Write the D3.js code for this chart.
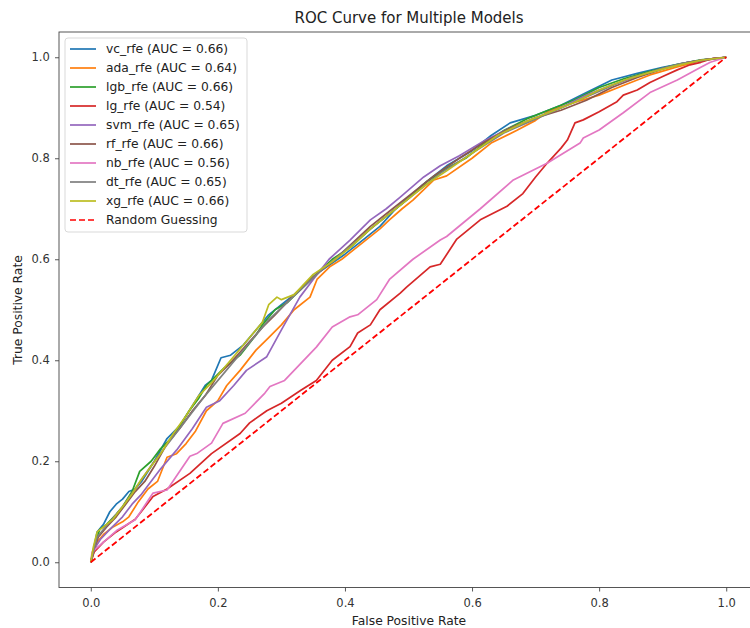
<!DOCTYPE html>
<html lang="en">
<head>
<meta charset="UTF-8">
<title>ROC Curve for Multiple Models</title>
<style>
  body { margin: 0; background: #fff; }
  svg { display: block; font-family: "DejaVu Sans", sans-serif; }
</style>
</head>
<body>
<svg id="chart" width="750" height="628"></svg>
<script src="https://cdn.jsdelivr.net/npm/d3@7/dist/d3.min.js"></script>
<script>
// model names and AUC from legend
const models = ["vc_rfe", "ada_rfe", "lgb_rfe", "lg_rfe", "svm_rfe", "rf_rfe", "nb_rfe", "dt_rfe", "xg_rfe"];
const aucs = [0.66, 0.64, 0.66, 0.54, 0.65, 0.66, 0.56, 0.65, 0.66];
const colors = ["#1f77b4", "#ff7f0e", "#2ca02c", "#d62728", "#9467bd", "#8c564b", "#e377c2", "#7f7f7f", "#bcbd22"];

// [fpr, tpr]
const vc = [[0,0],[0.005,0.03],[0.01,0.06],[0.02,0.075],[0.03,0.10],[0.04,0.115],[0.05,0.125],[0.06,0.14],[0.07,0.145],[0.08,0.16],[0.10,0.20],[0.12,0.245],[0.14,0.27],[0.16,0.31],[0.18,0.35],[0.19,0.36],[0.205,0.405],[0.22,0.41],[0.24,0.43],[0.26,0.46],[0.28,0.49],[0.30,0.51],[0.33,0.54],[0.36,0.575],[0.40,0.61],[0.43,0.64],[0.455,0.665],[0.48,0.70],[0.52,0.745],[0.56,0.785],[0.60,0.815],[0.63,0.845],[0.66,0.87],[0.70,0.885],[0.74,0.905],[0.78,0.93],[0.82,0.955],[0.86,0.968],[0.90,0.98],[0.94,0.99],[0.97,0.996],[1,1]];
const ada = [[0,0],[0.005,0.02],[0.01,0.04],[0.02,0.055],[0.035,0.07],[0.05,0.08],[0.06,0.09],[0.075,0.12],[0.09,0.145],[0.105,0.16],[0.12,0.208],[0.135,0.215],[0.15,0.235],[0.165,0.26],[0.182,0.30],[0.20,0.32],[0.214,0.35],[0.235,0.38],[0.26,0.42],[0.28,0.445],[0.30,0.47],[0.32,0.50],[0.345,0.525],[0.356,0.56],[0.376,0.585],[0.395,0.60],[0.42,0.625],[0.455,0.66],[0.47,0.678],[0.49,0.70],[0.507,0.717],[0.54,0.757],[0.56,0.765],[0.60,0.80],[0.63,0.83],[0.67,0.855],[0.70,0.875],[0.72,0.893],[0.76,0.91],[0.80,0.925],[0.84,0.945],[0.88,0.965],[0.92,0.98],[0.96,0.993],[1,1]];
const lgb = [[0,0],[0.008,0.04],[0.014,0.065],[0.025,0.075],[0.04,0.095],[0.05,0.11],[0.065,0.14],[0.077,0.18],[0.095,0.20],[0.11,0.225],[0.13,0.25],[0.14,0.27],[0.155,0.30],[0.17,0.325],[0.182,0.35],[0.21,0.385],[0.235,0.41],[0.26,0.45],[0.27,0.47],[0.29,0.50],[0.31,0.515],[0.33,0.54],[0.35,0.565],[0.38,0.60],[0.41,0.625],[0.44,0.66],[0.47,0.69],[0.50,0.72],[0.53,0.755],[0.56,0.78],[0.59,0.80],[0.62,0.83],[0.65,0.855],[0.69,0.88],[0.72,0.895],[0.76,0.915],[0.80,0.94],[0.84,0.958],[0.88,0.972],[0.92,0.985],[0.96,0.995],[1,1]];
const lg = [[0,0],[0.005,0.02],[0.02,0.04],[0.04,0.06],[0.07,0.085],[0.098,0.13],[0.12,0.145],[0.156,0.176],[0.19,0.215],[0.235,0.255],[0.25,0.276],[0.277,0.30],[0.30,0.315],[0.33,0.34],[0.355,0.36],[0.38,0.40],[0.408,0.427],[0.42,0.454],[0.44,0.47],[0.455,0.50],[0.487,0.533],[0.497,0.545],[0.534,0.585],[0.55,0.59],[0.576,0.64],[0.613,0.678],[0.655,0.705],[0.68,0.73],[0.70,0.763],[0.718,0.79],[0.74,0.82],[0.75,0.836],[0.762,0.87],[0.775,0.876],[0.80,0.892],[0.828,0.912],[0.838,0.925],[0.86,0.935],[0.88,0.95],[0.90,0.962],[0.923,0.975],[0.943,0.985],[0.96,0.99],[0.98,0.998],[1,1]];
const svm = [[0,0],[0.005,0.025],[0.015,0.045],[0.03,0.065],[0.05,0.09],[0.065,0.115],[0.08,0.135],[0.093,0.157],[0.11,0.185],[0.135,0.222],[0.16,0.265],[0.182,0.307],[0.203,0.32],[0.225,0.35],[0.245,0.38],[0.277,0.407],[0.30,0.46],[0.329,0.525],[0.35,0.56],[0.375,0.60],[0.408,0.638],[0.44,0.678],[0.465,0.70],[0.487,0.723],[0.524,0.763],[0.55,0.785],[0.58,0.805],[0.62,0.835],[0.66,0.86],[0.70,0.88],[0.74,0.90],[0.78,0.925],[0.82,0.945],[0.86,0.962],[0.90,0.978],[0.94,0.99],[0.97,0.996],[1,1]];
const rf = [[0,0],[0.006,0.03],[0.012,0.05],[0.025,0.07],[0.04,0.09],[0.055,0.115],[0.07,0.14],[0.085,0.16],[0.10,0.19],[0.12,0.235],[0.14,0.265],[0.16,0.30],[0.18,0.33],[0.20,0.37],[0.22,0.395],[0.245,0.43],[0.27,0.465],[0.29,0.49],[0.32,0.53],[0.35,0.565],[0.38,0.595],[0.41,0.63],[0.44,0.665],[0.47,0.695],[0.50,0.725],[0.54,0.765],[0.58,0.80],[0.62,0.832],[0.66,0.86],[0.70,0.88],[0.74,0.895],[0.78,0.915],[0.82,0.94],[0.86,0.96],[0.90,0.977],[0.94,0.99],[0.97,0.996],[1,1]];
const nb = [[0,0],[0.002,0.02],[0.02,0.04],[0.042,0.064],[0.07,0.084],[0.098,0.137],[0.12,0.143],[0.156,0.21],[0.168,0.216],[0.19,0.236],[0.208,0.275],[0.243,0.295],[0.274,0.335],[0.282,0.348],[0.305,0.36],[0.355,0.426],[0.38,0.466],[0.408,0.486],[0.42,0.49],[0.45,0.52],[0.47,0.56],[0.507,0.60],[0.55,0.638],[0.56,0.645],[0.613,0.70],[0.665,0.757],[0.718,0.79],[0.77,0.83],[0.775,0.84],[0.80,0.856],[0.838,0.89],[0.88,0.93],[0.923,0.955],[0.96,0.98],[0.975,0.99],[1,1]];
const dt = [[0,0],[0.01,0.05],[0.05,0.11],[0.10,0.20],[0.18,0.33],[0.28,0.48],[0.36,0.575],[0.45,0.67],[0.55,0.77],[0.65,0.85],[0.75,0.905],[0.85,0.96],[0.93,0.988],[1,1]];
const xg = [[0,0],[0.004,0.03],[0.01,0.06],[0.02,0.07],[0.035,0.085],[0.05,0.11],[0.065,0.135],[0.08,0.165],[0.095,0.19],[0.11,0.215],[0.13,0.255],[0.15,0.29],[0.17,0.33],[0.19,0.355],[0.21,0.385],[0.23,0.415],[0.25,0.445],[0.27,0.475],[0.28,0.51],[0.293,0.525],[0.30,0.52],[0.32,0.53],[0.35,0.57],[0.38,0.595],[0.41,0.625],[0.44,0.66],[0.47,0.69],[0.50,0.72],[0.53,0.75],[0.56,0.775],[0.60,0.81],[0.64,0.845],[0.68,0.87],[0.72,0.89],[0.76,0.91],[0.80,0.935],[0.84,0.955],[0.88,0.97],[0.92,0.983],[0.96,0.994],[1,1]];
const randomGuess = [[0,0],[1,1]];

const curves = [vc, ada, lgb, lg, svm, rf, nb, dt, xg];
const ticks = [0, 0.2, 0.4, 0.6, 0.8, 1.0];

const svg = d3.select("#chart");

let x = d3.scaleLinear().domain([-0.05, 1.05]).range([59, 758]);
let y = d3.scaleLinear().domain([-0.05, 1.05]).range([587.5, 32]);

// frame
svg.append("rect")
  .attr("x", x.range()[0]).attr("y", y.range()[1])
  .attr("width", x.range()[1] - x.range()[0])
  .attr("height", y.range()[0] - y.range()[1])
  .attr("fill", "none").attr("stroke", "#444").attr("stroke-width", 0.9);

let xaxis = d3.axisBottom(x).tickValues(ticks).tickFormat(d3.format(".1f")).tickSize(4).tickSizeOuter(0);
let gx = svg.append("g").attr("transform", "translate(0,587.5)").call(xaxis);
let yaxis = d3.axisLeft(y).tickValues(ticks).tickFormat(d3.format(".1f")).tickSize(4).tickSizeOuter(0);
let gy = svg.append("g").attr("transform", "translate(59,0)").call(yaxis);
[gx, gy].forEach(g => {
  g.select(".domain").remove();
  g.selectAll("line").attr("stroke", "#444").attr("stroke-width", 0.9);
  g.selectAll("text").attr("fill", "#333").style("font-size", "11.5px").style("font-family", "DejaVu Sans");
});
gx.selectAll("text").attr("dy", "1.1em");
gy.selectAll("text").attr("dx", "-0.2em");

// lines
let line = d3.line().x(d => x(d[0])).y(d => y(d[1]));
svg.append("g").selectAll("path")
  .data(curves)
  .join("path")
  .attr("d", line)
  .attr("fill", "none")
  .attr("stroke", (d, i) => colors[i])
  .attr("stroke-width", 1.7)
  .attr("stroke-linejoin", "round");

svg.append("path")
  .attr("d", line(randomGuess))
  .attr("fill", "none")
  .attr("stroke", "#ff0000")
  .attr("stroke-width", 1.8)
  .attr("stroke-dasharray", "6,3");

// title and labels
svg.append("text").attr("x", 409).attr("y", 23).attr("text-anchor", "middle")
  .style("font-size", "15px").attr("fill", "#222").text("ROC Curve for Multiple Models");
svg.append("text").attr("x", 409).attr("y", 625).attr("text-anchor", "middle")
  .style("font-size", "12.3px").attr("fill", "#222").text("False Positive Rate");
svg.append("text").attr("transform", "translate(22,310) rotate(-90)").attr("text-anchor", "middle")
  .style("font-size", "12.3px").attr("fill", "#222").text("True Positive Rate");

// legend
let legend = svg.append("g");
legend.append("rect")
  .attr("x", 65).attr("y", 38).attr("width", 182).attr("height", 194)
  .attr("rx", 3).attr("fill", "#fff").attr("fill-opacity", 0.85)
  .attr("stroke", "#d5d5d5").attr("stroke-width", 0.9);

let labels = models.map((m, i) => m + " (AUC = " + aucs[i].toFixed(2) + ")").concat(["Random Guessing"]);
let items = legend.selectAll("g.item")
  .data(labels)
  .join("g")
  .attr("class", "item")
  .attr("transform", (d, i) => "translate(0," + (49 + i * 19) + ")");
items.append("line")
  .attr("x1", 70).attr("x2", 96)
  .attr("stroke", (d, i) => i < colors.length ? colors[i] : "#ff0000")
  .attr("stroke-width", 1.7)
  .attr("stroke-dasharray", (d, i) => i < colors.length ? null : "6,3");
items.append("text")
  .attr("x", 106).attr("dy", "0.35em")
  .style("font-size", "12.3px").attr("fill", "#222")
  .text(d => d);
</script>
</body>
</html>
